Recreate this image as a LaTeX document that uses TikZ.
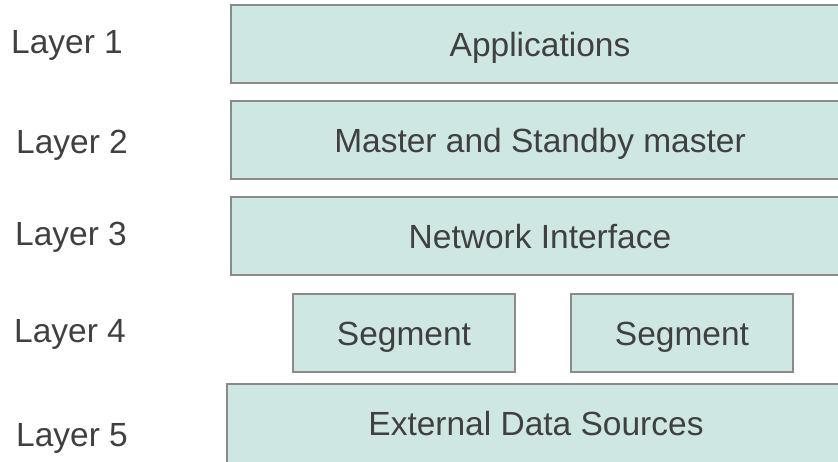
\documentclass[tikz,border=0pt]{standalone}
\usepackage{fontspec}
\setmainfont{Liberation Sans}
\usepackage{tikz}
\usepackage{xcolor}
\usetikzlibrary{positioning}
\definecolor{boxfill}{HTML}{CFE7E3}
\definecolor{boxline}{HTML}{8A8A8A}
\definecolor{txt}{HTML}{404040}

\begin{document}
\begin{tikzpicture}[x=1pt, y=-1pt,
    layerbox/.style={draw=boxline, line width=1.4pt, fill=boxfill, text=txt,
        minimum height=78pt, text height=24pt, text depth=0pt,
        font=\fontsize{33.5}{40}\selectfont},
    layername/.style={anchor=base, text=txt, inner sep=0pt,
        font=\fontsize{33.5}{40}\selectfont}]

        \clip (0,0) rectangle (838,461);

        \node[layerbox, minimum width=618pt] (apps) at (540,44) {Applications};
        \node[layerbox, minimum width=618pt] (master) at (540,140) {Master and Standby master};
        \node[layerbox, minimum width=618pt] (netif) at (540,236) {Network Interface};
        \node[layerbox, minimum width=222pt] (segA) at (404,333) {Segment};
        \node[layerbox, minimum width=222pt] (segB) at (682,333) {Segment};
        \node[layerbox, minimum width=618pt, minimum height=84pt, text depth=6pt] (extdata) at (536,426) {External Data Sources};

        \node[layername] (l1) at (67,53) {Layer 1};
        \node[layername] (l2) at (72,153) {Layer 2};
        \node[layername] (l3) at (71,245) {Layer 3};
        \node[layername] (l4) at (70,342) {Layer 4};
        \node[layername] (l5) at (72,446) {Layer 5};
        \end{tikzpicture}
\end{document}
